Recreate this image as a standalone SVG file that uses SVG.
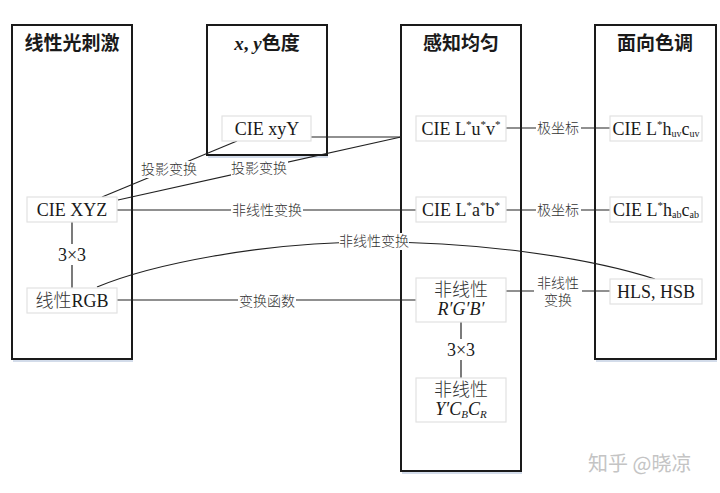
<svg xmlns="http://www.w3.org/2000/svg" width="720" height="493" viewBox="0 0 720 493">
<style>
.panel{fill:#fff;stroke:#1a1a1a;stroke-width:2}
.shadow{fill:none;stroke:#d3dcea;stroke-width:2}
.node{fill:#fff;stroke:#e2e2e2;stroke-width:1.2}
.title{font-family:"Liberation Serif","Noto Sans CJK SC",serif;font-size:19px;font-weight:bold;fill:#1a1a1a;text-anchor:middle}
.t{font-family:"Liberation Serif","Noto Sans CJK SC",serif;font-size:18px;fill:#1a1a1a;text-anchor:middle}
.zh{font-weight:300;fill:#333}
.lbl{font-family:"Liberation Serif","Noto Sans CJK SC",serif;font-size:14px;font-weight:300;fill:#333;text-anchor:middle}
.bg{fill:#fff}
.c{fill:none;stroke:#222;stroke-width:1.2}
.wm{font-family:"Noto Sans CJK SC",sans-serif;font-size:20px;fill:#c4c4c4}
</style>

<!-- panels -->
<g id="panel-linear">
<line class="shadow" x1="13" y1="361" x2="133" y2="361"/>
<rect class="panel" x="12" y="25" width="120" height="334"/>
<text class="title" x="72" y="50">线性光刺激</text>
</g>
<g id="panel-xy">
<line class="shadow" x1="208" y1="157" x2="328" y2="157"/>
<rect class="panel" x="207" y="25" width="120" height="130"/>
<text class="title" x="267" y="50"><tspan font-style="italic">x</tspan>, <tspan font-style="italic">y</tspan>色度</text>
</g>
<g id="panel-uniform">
<line class="shadow" x1="402" y1="473" x2="522" y2="473"/>
<rect class="panel" x="401" y="25" width="120" height="446"/>
<text class="title" x="461" y="50">感知均匀</text>
</g>
<g id="panel-hue">
<line class="shadow" x1="596" y1="361" x2="717" y2="361"/>
<rect class="panel" x="595" y="25" width="121" height="334"/>
<text class="title" x="655" y="50">面向色调</text>
</g>

<!-- connectors -->
<g id="connectors">
<line class="c" x1="311" y1="137" x2="401" y2="137"/>
<line class="c" x1="118" y1="200" x2="401" y2="137"/>
<line class="c" x1="102" y1="197" x2="237" y2="141"/>
<line class="c" x1="117" y1="210" x2="416" y2="210"/>
<line class="c" x1="506" y1="128" x2="610" y2="128"/>
<line class="c" x1="506" y1="210" x2="610" y2="210"/>
<line class="c" x1="117" y1="300" x2="416" y2="300"/>
<line class="c" x1="506" y1="291" x2="610" y2="291"/>
<line class="c" x1="72" y1="222" x2="72" y2="288"/>
<line class="c" x1="461" y1="322" x2="461" y2="378"/>
<path class="c" d="M97,287 C150,265 260,242 374,242 C470,242 580,255 655,279"/>
</g>

<!-- connector labels -->
<g id="labels">
<rect class="bg" x="141" y="161" width="57" height="17"/>
<text class="lbl" x="169" y="174">投影变换</text>
<rect class="bg" x="231" y="160" width="57" height="17"/>
<text class="lbl" x="259" y="173">投影变换</text>
<rect class="bg" x="231" y="202" width="72" height="17"/>
<text class="lbl" x="267" y="215">非线性变换</text>
<rect class="bg" x="238" y="293" width="58" height="17"/>
<text class="lbl" x="267" y="306">变换函数</text>
<rect class="bg" x="536" y="120" width="45" height="17"/>
<text class="lbl" x="558" y="133">极坐标</text>
<rect class="bg" x="536" y="202" width="45" height="17"/>
<text class="lbl" x="558" y="215">极坐标</text>
<rect class="bg" x="534" y="274" width="48" height="34"/>
<text class="lbl" x="558" y="288">非线性</text>
<text class="lbl" x="558" y="305">变换</text>
<rect class="bg" x="339" y="233" width="70" height="17"/>
<text class="lbl" x="374" y="246">非线性变换</text>
<rect class="bg" x="52" y="244" width="40" height="21"/>
<text class="t" x="72" y="261">3×3</text>
<rect class="bg" x="441" y="339" width="40" height="21"/>
<text class="t" x="461" y="356">3×3</text>
</g>

<!-- nodes -->
<g id="n-xyY">
<rect class="node" x="222" y="116" width="89" height="25"/>
<text class="t" x="267" y="135">CIE xyY</text>
</g>
<g id="n-XYZ">
<rect class="node" x="27" y="197" width="90" height="25"/>
<text class="t" x="72" y="216">CIE XYZ</text>
</g>
<g id="n-linRGB">
<rect class="node" x="27" y="288" width="90" height="25"/>
<text class="t" x="72" y="307"><tspan class="zh">线性</tspan>RGB</text>
</g>
<g id="n-Luv">
<rect class="node" x="416" y="116" width="90" height="25"/>
<text class="t" x="461" y="135">CIE L<tspan font-size="11" dy="-7">*</tspan><tspan dy="7">u</tspan><tspan font-size="11" dy="-7">*</tspan><tspan dy="7">v</tspan><tspan font-size="11" dy="-7">*</tspan></text>
</g>
<g id="n-Lab">
<rect class="node" x="416" y="197" width="90" height="25"/>
<text class="t" x="461" y="216">CIE L<tspan font-size="11" dy="-7">*</tspan><tspan dy="7">a</tspan><tspan font-size="11" dy="-7">*</tspan><tspan dy="7">b</tspan><tspan font-size="11" dy="-7">*</tspan></text>
</g>
<g id="n-RGBp">
<rect class="node" x="416" y="278" width="90" height="44"/>
<text class="t zh" x="461" y="296">非线性</text>
<text class="t" x="461" y="315" font-style="italic">R′G′B′</text>
</g>
<g id="n-YCC">
<rect class="node" x="416" y="378" width="90" height="44"/>
<text class="t zh" x="461" y="396">非线性</text>
<text class="t" x="461" y="415" font-style="italic">Y′C<tspan font-size="11" dy="3">B</tspan><tspan dy="-3">C</tspan><tspan font-size="11" dy="3">R</tspan></text>
</g>
<g id="n-Lhuv">
<rect class="node" x="610" y="116" width="92" height="25"/>
<text class="t" x="656" y="135">CIE L<tspan font-size="11" dy="-7">*</tspan><tspan dy="7">h</tspan><tspan font-size="10" dy="2">uv</tspan><tspan dy="-2">c</tspan><tspan font-size="10" dy="2">uv</tspan></text>
</g>
<g id="n-Lhab">
<rect class="node" x="610" y="197" width="92" height="25"/>
<text class="t" x="656" y="216">CIE L<tspan font-size="11" dy="-7">*</tspan><tspan dy="7">h</tspan><tspan font-size="10" dy="2">ab</tspan><tspan dy="-2">c</tspan><tspan font-size="10" dy="2">ab</tspan></text>
</g>
<g id="n-HLS">
<rect class="node" x="610" y="279" width="92" height="25"/>
<text class="t" x="656" y="298">HLS, HSB</text>
</g>

<text class="wm" x="588" y="471">知乎 @晓凉</text>
</svg>
